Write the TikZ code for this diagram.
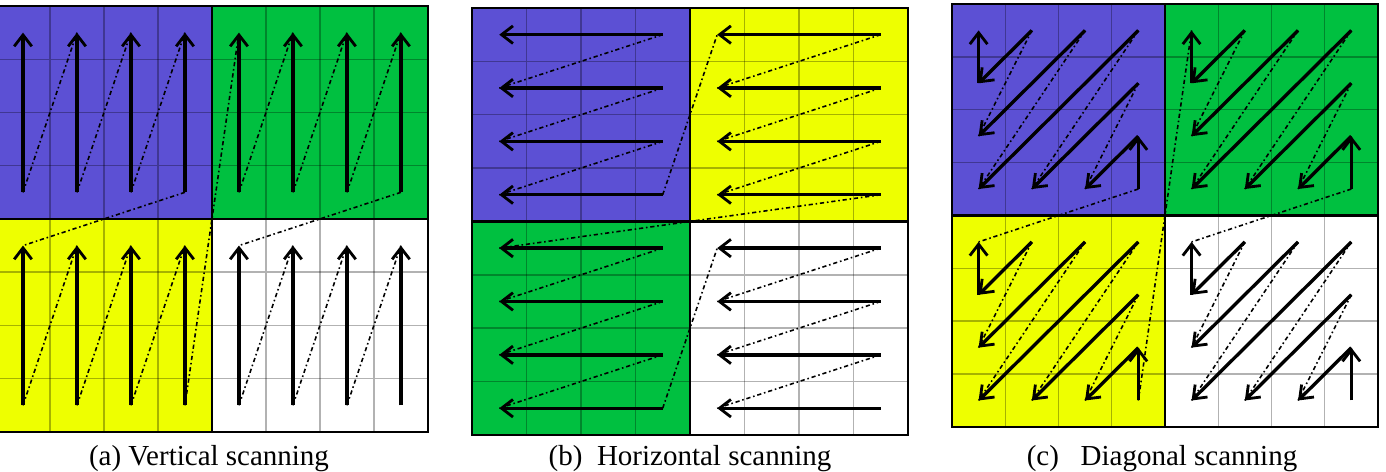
\documentclass[tikz,border=0pt]{standalone}
\usepackage{fontspec}
\setmainfont{Liberation Serif}
\usetikzlibrary{positioning, calc, arrows.meta}

\definecolor{blkblue}{RGB}{92,80,212}
\definecolor{blkgreen}{RGB}{0,192,64}
\definecolor{blkyellow}{RGB}{238,255,0}

\tikzset{
  scanarrow/.style={line width=1.9pt, -{Straight Barb[length=6.5pt,width=10pt,line width=1.6pt]}},
  scanjump/.style={line width=0.9pt, dash pattern=on 2.4pt off 1.6pt on 0.9pt off 1.6pt},
  cellgrid/.style={line width=0.8pt, black, opacity=0.3},
  blockline/.style={line width=1.2pt, black},
  caption/.style={anchor=base, font=\fontsize{16.5pt}{20pt}\selectfont},
}

% coloured 8x8 block, cell centres named <panel>-<quadrant>-<col>-<row>
\newcommand{\scanblock}[4]{%
  \fill[#2] (0,0) rectangle (4,4);
  \fill[#3] (4,0) rectangle (8,4);
  \fill[#4] (0,4) rectangle (4,8);
  \foreach \k in {1,...,7} \draw[cellgrid] (\k,0) -- (\k,8) (0,\k) -- (8,\k);
  \draw[blockline] (0,0) rectangle (8,8) (4,0) -- (4,8) (0,4) -- (8,4);
  \foreach \q/\dx/\dy in {TL/0/0,TR/4/0,BL/0/4,BR/4/4}
    \foreach \i in {1,...,4}
      \foreach \j in {1,...,4}
        \coordinate (#1-\q-\i-\j) at (\dx+\i-0.5,\dy+\j-0.5);
}

\begin{document}
\begin{tikzpicture}[x=0.02cm, y=-0.02cm]
  \useasboundingbox (0,0) rectangle (1386,472);

  % (a) vertical
  \begin{scope}[shift={(-4,6)}, x=1.08cm, y=-1.065cm]
    \scanblock{a}{blkblue}{blkgreen}{blkyellow}
  \end{scope}
  \foreach \q in {TL,TR,BL,BR} {
    \foreach \i in {1,...,4} \draw[scanarrow] (a-\q-\i-4) -- (a-\q-\i-1);
    \foreach \i/\k in {1/2,2/3,3/4} \draw[scanjump] (a-\q-\i-4) -- (a-\q-\k-1);
  }
  \draw[scanjump] (a-TL-4-4) -- (a-BL-1-1);
  \draw[scanjump] (a-BL-4-4) -- (a-TR-1-1);
  \draw[scanjump] (a-TR-4-4) -- (a-BR-1-1);

  % (b) horizontal
  \begin{scope}[shift={(472,8)}, x=1.09cm, y=-1.0675cm]
    \scanblock{b}{blkblue}{blkyellow}{blkgreen}
  \end{scope}
  \foreach \q in {TL,TR,BL,BR} {
    \foreach \j in {1,...,4} \draw[scanarrow] (b-\q-4-\j) -- (b-\q-1-\j);
    \foreach \j/\k in {1/2,2/3,3/4} \draw[scanjump] (b-\q-4-\j) -- (b-\q-1-\k);
  }
  \draw[scanjump] (b-TL-4-4) -- (b-TR-1-1);
  \draw[scanjump] (b-TR-4-4) -- (b-BL-1-1);
  \draw[scanjump] (b-BL-4-4) -- (b-BR-1-1);

  % (c) diagonal
  \begin{scope}[shift={(952,4)}, x=1.065cm, y=-1.0575cm]
    \scanblock{c}{blkblue}{blkgreen}{blkyellow}
  \end{scope}
  \foreach \q in {TL,TR,BL,BR} {
    \foreach \s/\t in {1-2/1-1,2-1/1-2,3-1/1-3,4-1/1-4,4-2/2-4,4-3/3-4,4-4/4-3}
      \draw[scanarrow] (c-\q-\s) -- (c-\q-\t);
    \foreach \s/\t in {2-1/1-3,3-1/1-4,4-1/2-4,4-2/3-4}
      \draw[scanjump] (c-\q-\s) -- (c-\q-\t);
  }
  \draw[scanjump] (c-TL-4-4) -- (c-BL-1-1);
  \draw[scanjump] (c-BL-4-4) -- (c-TR-1-1);
  \draw[scanjump] (c-TR-4-4) -- (c-BR-1-1);

  \node[caption] (capa) at (209,466) {(a) Vertical scanning};
  \node[caption] (capb) at (690,466) {(b)~~Horizontal scanning};
  \node[caption] (capc) at (1162,466) {(c)~~~Diagonal scanning};
\end{tikzpicture}
\end{document}
